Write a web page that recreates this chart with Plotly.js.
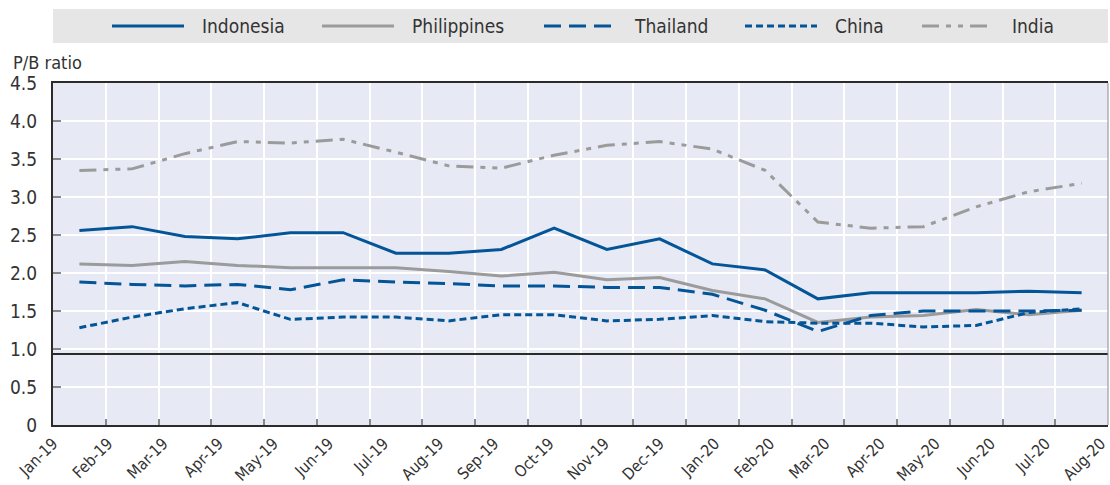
<!DOCTYPE html>
<html>
<head>
<meta charset="utf-8">
<script src="https://cdn.plot.ly/plotly-3.0.1.min.js"></script>
<style>html,body{margin:0;padding:0;background:#fff;}#chart{width:1110px;height:485px;}</style>
</head>
<body>
<div id="chart"></div>
<script>
// ---- Data ----
const months = ["Jan-19","Feb-19","Mar-19","Apr-19","May-19","Jun-19","Jul-19","Aug-19","Sep-19","Oct-19",
                "Nov-19","Dec-19","Jan-20","Feb-20","Mar-20","Apr-20","May-20","Jun-20","Jul-20","Aug-20"];
const indonesia   = [2.56,2.61,2.48,2.45,2.53,2.53,2.26,2.26,2.31,2.59,2.31,2.45,2.12,2.04,1.66,1.74,1.74,1.74,1.76,1.74];
const philippines = [2.12,2.10,2.15,2.10,2.07,2.07,2.07,2.02,1.96,2.01,1.91,1.94,1.77,1.66,1.35,1.42,1.44,1.52,1.45,1.51];
const thailand    = [1.88,1.85,1.83,1.85,1.78,1.91,1.88,1.86,1.83,1.83,1.81,1.81,1.72,1.51,1.23,1.44,1.50,1.50,1.50,1.51];
const china       = [1.28,1.42,1.53,1.61,1.39,1.42,1.42,1.37,1.45,1.45,1.37,1.39,1.44,1.36,1.34,1.34,1.29,1.31,1.48,1.53];
const india       = [3.35,3.37,3.57,3.73,3.71,3.76,3.59,3.41,3.38,3.55,3.68,3.73,3.63,3.35,2.67,2.59,2.61,2.87,3.07,3.18];
const seriesNames = ["Indonesia","Philippines","Thailand","China","India"];
const yTickVals = [0,0.5,1,1.5,2,2.5,3,3.5,4,4.5];
const yTickText = ["0","0.5","1.0","1.5","2.0","2.5","3.0","3.5","4.0","4.5"];
const yTitle = "P/B ratio";

// ---- Styles ----
const BLUE = "#045597", GREY = "#9B9B9B";
const FONT = "'Liberation Sans Narrow', 'Arial Narrow', 'DejaVu Sans Condensed', sans-serif";
const styles = [
  {color: BLUE, dash: "solid"},
  {color: GREY, dash: "solid"},
  {color: BLUE, dash: "17px,8px"},
  {color: BLUE, dash: "7px,4px"},
  {color: GREY, dash: "17px,7px,5px,7px,5px,7px"}
];
const values = [indonesia, philippines, thailand, china, india];

const W = 1110, H = 485, ML = 53, MR = 2, MT = 83, MB = 60;
const PW = W - ML - MR, PH = H - MT - MB;
const px2x = p => (p - ML) / PW;
const px2y = p => (H - MB - p) / PH;

const idx = months.map((_, i) => i);
const traces = values.map((v, k) => ({
  x: idx, y: v, type: "scatter", mode: "lines", name: seriesNames[k],
  line: {color: styles[k].color, width: 3, dash: styles[k].dash},
  showlegend: false, hoverinfo: "skip"
}));
// dummy trace for the label axis
traces.push({x: [0, months.length - 1], y: [null, null], xaxis: "x2", yaxis: "y",
             type: "scatter", mode: "lines", showlegend: false, hoverinfo: "skip"});

const bounds = [];
for (let i = 0; i <= months.length; i++) bounds.push(i - 0.5);

// legend (manual)
const legendLineX = [112, 322, 544, 745, 922];
const legendLen = 72, legendCY = 26;
const shapes = [
  {type: "rect", xref: "paper", yref: "paper", x0: 0, x1: px2x(1108), y0: px2y(43), y1: px2y(9),
   fillcolor: "#E6E6E6", line: {width: 0}, layer: "below"},
  {type: "line", xref: "paper", yref: "y", x0: 0, x1: 1, y0: 0.935, y1: 0.935,
   line: {color: "#2b2b2b", width: 2}},
  {type: "line", xref: "paper", yref: "paper", x0: 1, x1: 1, y0: 0, y1: 1,
   line: {color: "#8a8a8a", width: 1}}
];
const annotations = [
  {xref: "paper", yref: "paper", x: px2x(11), y: px2y(62), xanchor: "left", yanchor: "middle",
   text: yTitle, showarrow: false, font: {family: FONT, size: 18, color: "#333"}}
];
seriesNames.forEach((n, k) => {
  shapes.push({type: "line", xref: "paper", yref: "paper",
    x0: px2x(legendLineX[k]), x1: px2x(legendLineX[k] + legendLen),
    y0: px2y(legendCY), y1: px2y(legendCY),
    line: {color: styles[k].color, width: 3, dash: styles[k].dash}});
  annotations.push({xref: "paper", yref: "paper", x: px2x(legendLineX[k] + legendLen + 16),
    y: px2y(legendCY), xanchor: "left", yanchor: "middle", text: n, showarrow: false,
    font: {family: FONT, size: 19, color: "#333"}});
});

const layout = {
  width: W, height: H,
  margin: {l: ML, r: MR, t: MT, b: MB, pad: 0},
  paper_bgcolor: "#ffffff", plot_bgcolor: "#E7EAF4",
  font: {family: FONT, size: 16, color: "#333"},
  showlegend: false,
  xaxis: {
    range: [-0.5, months.length - 0.5], tickmode: "array", tickvals: bounds,
    showticklabels: false, ticks: "inside", ticklen: 6, tickwidth: 2, tickcolor: "#888",
    showgrid: true, gridcolor: "#ffffff", gridwidth: 2,
    showline: true, linecolor: "#2b2b2b", linewidth: 2, mirror: true, zeroline: false, fixedrange: true
  },
  xaxis2: {
    overlaying: "x", anchor: "y", side: "bottom",
    range: [0, months.length - 1 + 0.13], tickmode: "array", tickvals: idx, ticktext: months,
    tickangle: -45, showgrid: false, ticks: "", showline: false, zeroline: false,
    ticklabeloverflow: "allow", automargin: false,
    ticklabelstandoff: 5, tickfont: {family: FONT, size: 16, color: "#333"}
  },
  yaxis: {
    range: [0, 4.5], tickmode: "array", tickvals: yTickVals, ticktext: yTickText,
    ticks: "inside", ticklen: 8, tickwidth: 2, tickcolor: "#888",
    showgrid: true, gridcolor: "#ffffff", gridwidth: 2,
    showline: true, linecolor: "#2b2b2b", linewidth: 2, zeroline: false,
    ticklabelstandoff: 10, tickfont: {family: FONT, size: 19, color: "#333"}
  },
  shapes: shapes,
  annotations: annotations
};

Plotly.newPlot("chart", traces, layout, {staticPlot: true, displayModeBar: false});
</script>
</body>
</html>
